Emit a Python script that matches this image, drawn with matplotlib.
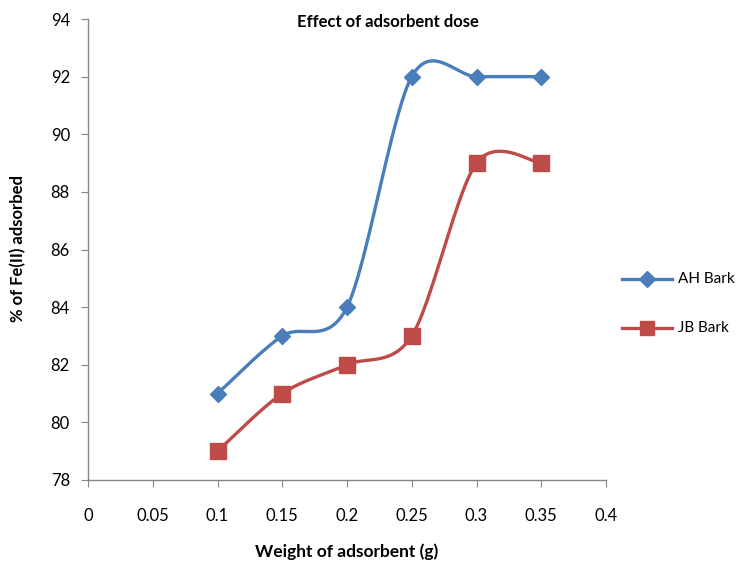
import numpy as np
import matplotlib
matplotlib.use("Agg")
import matplotlib.pyplot as plt

plt.rcParams['font.family'] = ['Lato', 'DejaVu Sans']

dose = [0.1, 0.15, 0.2, 0.25, 0.3, 0.35]
ah_bark = [81, 83, 84, 92, 92, 92]
jb_bark = [79, 81, 82, 83, 89, 89]

XMIN, XMAX, YMIN, YMAX = 0, 0.4, 78, 94


def smooth(xs, ys, n=40):
    # Excel-like smoothed line: Catmull-Rom in normalized axes space
    px = (np.array(xs) - XMIN) / (XMAX - XMIN) * 518
    py = (np.array(ys) - YMIN) / (YMAX - YMIN) * 461
    P = np.column_stack([px, py])
    P = np.vstack([P[0], P, P[-1]])
    out = []
    t = np.linspace(0, 1, n)[:, None]
    for i in range(1, len(P) - 2):
        p0, p1, p2, p3 = P[i - 1], P[i], P[i + 1], P[i + 2]
        c1 = p1 + (p2 - p0) / 6.5
        c2 = p2 - (p3 - p1) / 6.5
        seg = ((1 - t) ** 3) * p1 + 3 * ((1 - t) ** 2) * t * c1 + 3 * (1 - t) * t ** 2 * c2 + t ** 3 * p2
        out.append(seg)
    out = np.vstack(out)
    return out[:, 0] / 518 * (XMAX - XMIN) + XMIN, out[:, 1] / 461 * (YMAX - YMIN) + YMIN


fig = plt.figure(figsize=(7.39, 5.62), dpi=100)
ax = fig.add_axes([88 / 739, 82 / 562, 518 / 739, 461 / 562])

blue = '#4A7EBB'
red = '#BE4B48'

sx, sy = smooth(dose, ah_bark)
ax.plot(sx, sy, color=blue, lw=2.4, solid_capstyle='round')
ax.plot(dose, ah_bark, ls='none', marker='D', ms=8.5, color=blue)
sx, sy = smooth(dose, jb_bark)
ax.plot(sx, sy, color=red, lw=2.4, solid_capstyle='round')
ax.plot(dose, jb_bark, ls='none', marker='s', ms=11, color=red)

ax.set_xlim(XMIN, XMAX)
ax.set_ylim(YMIN, YMAX)
ax.set_xticks(np.arange(0, 0.401, 0.05))
ax.set_xticklabels(['0', '0.05', '0.1', '0.15', '0.2', '0.25', '0.3', '0.35', '0.4'])
ax.set_yticks(range(78, 95, 2))
for s in ['top', 'right']:
    ax.spines[s].set_visible(False)
for s in ['left', 'bottom']:
    ax.spines[s].set_color('#868686')
    ax.spines[s].set_linewidth(1)
ax.tick_params(direction='out', length=5, color='#868686', labelsize=12, pad=8)
ax.tick_params(axis='x', pad=15)

fig.text(388 / 739, 1 - 22 / 562, 'Effect of adsorbent dose', ha='center', va='center',
         fontsize=12, fontweight='bold')
fig.text(347 / 739, 1 - 552 / 562, 'Weight of adsorbent (g)', ha='center', va='center',
         fontsize=12.5, fontweight='bold')
fig.text(18 / 739, 1 - 249 / 562, '% of Fe(II) adsorbed', ha='center', va='center',
         fontsize=12, fontweight='bold', rotation=90)

# legend
lx0, lx1 = 622 / 739, 672 / 739
for yy, col, mk, ms, lab in [(279, blue, 'D', 8, 'AH Bark'), (328, red, 's', 10, 'JB Bark')]:
    y = 1 - yy / 562
    fig.add_artist(plt.Line2D([lx0, lx1], [y, y], color=col, lw=2.4, transform=fig.transFigure))
    fig.add_artist(plt.Line2D([(lx0 + lx1) / 2], [y], color=col, marker=mk, ms=ms, transform=fig.transFigure))
    fig.text(678 / 739, y, lab, ha='left', va='center', fontsize=11)

fig.savefig('out.png', dpi=100)
